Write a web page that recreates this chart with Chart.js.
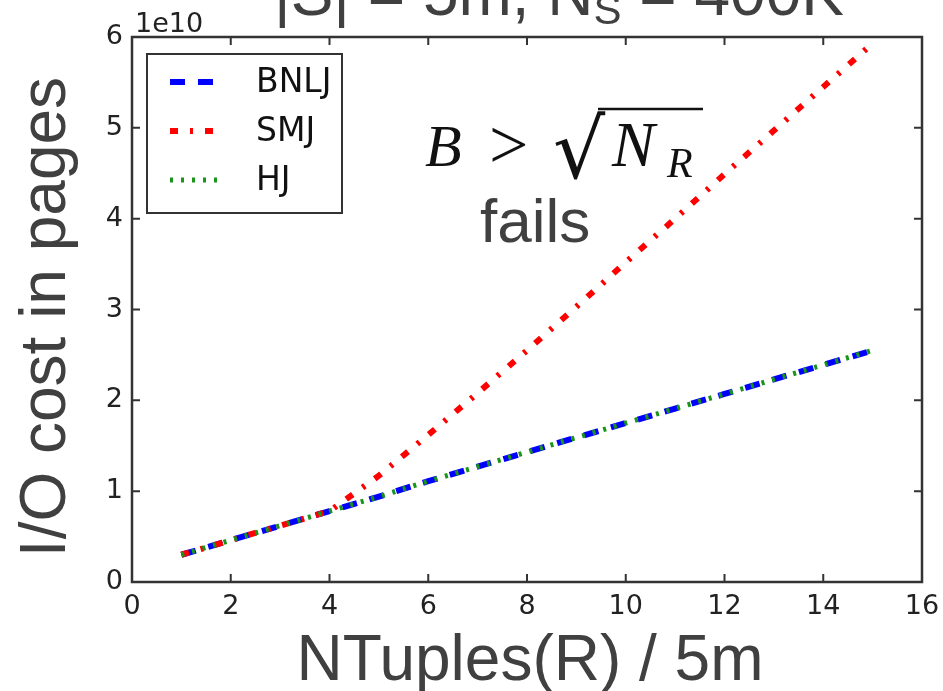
<!DOCTYPE html>
<html>
<head>
<meta charset="utf-8">
<script src="https://cdn.jsdelivr.net/npm/chart.js@4/dist/chart.umd.min.js"></script>
<style>
  html, body { margin: 0; padding: 0; background: #fff; }
  #wrap { width: 943px; height: 691px; }
</style>
</head>
<body>
<div id="wrap"><canvas id="costChart" width="943" height="691"></canvas></div>
<script>
// x = NTuples(R) / 5m, y = I/O cost (units of 1e10 pages)
const xValues = [1, 2, 3, 4, 5, 6, 7, 8, 9, 10, 11, 12, 13, 14, 15];
const bnljCost = [0.30, 0.46, 0.62, 0.78, 0.94, 1.11, 1.27, 1.43, 1.59, 1.75, 1.91, 2.07, 2.23, 2.39, 2.55];
const smjCost = [0.30, 0.46, 0.62, 0.78, 1.17, 1.62, 2.08, 2.55, 3.03, 3.52, 4.00, 4.49, 4.97, 5.45, 5.93];
const hjCost = [0.30, 0.46, 0.62, 0.78, 0.94, 1.11, 1.27, 1.43, 1.59, 1.75, 1.91, 2.07, 2.23, 2.39, 2.55];
const xTicks = [0, 2, 4, 6, 8, 10, 12, 14, 16];
const yTicks = [0, 1, 2, 3, 4, 5, 6];
const seriesNames = ["BNLJ", "SMJ", "HJ"];

const SANS = '"Liberation Sans", Arial, sans-serif';
const TEXT_GREY = "#404040";

function points(ys) {
  return xValues.map((x, i) => ({ x: x, y: ys[i] }));
}

// frame, inward ticks, legend, labels and annotations
const decorations = {
  id: "decorations",
  afterDatasetsDraw(chart) {
    const ctx = chart.ctx;
    const a = chart.chartArea;
    const xs = chart.scales.x;
    const ys = chart.scales.y;

    ctx.save();
    ctx.strokeStyle = "#333";
    ctx.lineWidth = 2;
    xTicks.forEach((v) => {
      const px = xs.getPixelForValue(v);
      ctx.beginPath();
      ctx.moveTo(px, a.bottom);
      ctx.lineTo(px, a.bottom - 8);
      ctx.moveTo(px, a.top);
      ctx.lineTo(px, a.top + 8);
      ctx.stroke();
    });
    yTicks.forEach((v) => {
      const py = ys.getPixelForValue(v);
      ctx.beginPath();
      ctx.moveTo(a.left, py);
      ctx.lineTo(a.left + 8, py);
      ctx.moveTo(a.right, py);
      ctx.lineTo(a.right - 8, py);
      ctx.stroke();
    });
    ctx.lineWidth = 2.5;
    ctx.strokeRect(a.left, a.top, a.right - a.left, a.bottom - a.top);

    // exponent label
    ctx.fillStyle = "#222";
    ctx.font = '27px "DejaVu Sans"';
    ctx.textAlign = "left";
    ctx.textBaseline = "alphabetic";
    ctx.fillText("1e10", a.left + 3, a.top - 5);

    // legend
    const lx = 147, ly = 54;
    ctx.fillStyle = "#fff";
    ctx.fillRect(lx, ly, 195, 159);
    ctx.strokeStyle = "#333";
    ctx.lineWidth = 2;
    ctx.strokeRect(lx, ly, 195, 159);
    chart.data.datasets.forEach((ds, i) => {
      const y = 82 + i * 49;
      ctx.save();
      ctx.strokeStyle = ds.borderColor;
      ctx.lineWidth = ds.borderWidth;
      ctx.setLineDash(ds.borderDash);
      ctx.lineCap = "butt";
      ctx.beginPath();
      ctx.moveTo(170, y);
      ctx.lineTo(222, y);
      ctx.stroke();
      ctx.restore();
      ctx.fillStyle = "#111";
      ctx.font = '33px "DejaVu Sans"';
      ctx.textBaseline = "middle";
      ctx.fillText(ds.label, 256, y + 1);
    });

    // axis titles
    ctx.fillStyle = TEXT_GREY;
    ctx.textBaseline = "alphabetic";
    ctx.font = "64px " + SANS;
    ctx.textAlign = "center";
    ctx.fillText("NTuples(R) / 5m", 530, 680);
    ctx.save();
    ctx.translate(65, 317);
    ctx.rotate(-Math.PI / 2);
    ctx.fillText("I/O cost in pages", 0, 0);
    ctx.restore();

    // clipped slide title
    ctx.textAlign = "left";
    ctx.font = "64px " + SANS;
    let tx = 274;
    const t1 = "|S| = 5m, N";
    ctx.fillText(t1, tx, 15);
    tx += ctx.measureText(t1).width;
    ctx.font = "42px " + SANS;
    ctx.fillText("S", tx, 24);
    tx += ctx.measureText("S").width;
    ctx.font = "64px " + SANS;
    ctx.fillText(" = 400K", tx, 15);

    // annotation: B > sqrt(N_R) fails
    ctx.fillStyle = "#111";
    ctx.font = 'italic 60px "Liberation Serif"';
    ctx.fillText("B", 425, 166);
    ctx.font = '70px "Liberation Serif"';
    ctx.fillText(">", 489, 168);
    ctx.font = '82px "DejaVu Serif"';
    ctx.fillText("\u221A", 553, 178);
    ctx.strokeStyle = "#111";
    ctx.lineWidth = 2.5;
    ctx.beginPath();
    ctx.moveTo(598, 109);
    ctx.lineTo(703, 109);
    ctx.stroke();
    ctx.font = 'italic 64px "Liberation Serif"';
    ctx.fillText("N", 612, 166);
    ctx.font = 'italic 42px "Liberation Serif"';
    ctx.fillText("R", 667, 177);
    ctx.fillStyle = TEXT_GREY;
    ctx.font = "62px " + SANS;
    ctx.fillText("fails", 480, 242);
    ctx.restore();
  },
};

new Chart(document.getElementById("costChart").getContext("2d"), {
  type: "line",
  data: {
    datasets: [
      {
        label: seriesNames[0],
        data: points(bnljCost),
        borderColor: "#0000ff",
        borderWidth: 6,
        borderDash: [15, 13],
        order: 3,
      },
      {
        label: seriesNames[1],
        data: points(smjCost),
        borderColor: "#ff0000",
        borderWidth: 6,
        borderDash: [8, 12, 3, 12],
        order: 2,
      },
      {
        label: seriesNames[2],
        data: points(hjCost),
        borderColor: "#1a941a",
        borderWidth: 5,
        borderDash: [3, 8],
        order: 1,
      },
    ],
  },
  options: {
    responsive: false,
    animation: false,
    devicePixelRatio: 1,
    layout: { padding: { left: 0, right: 21, top: 37, bottom: 0 } },
    elements: {
      point: { radius: 0 },
      line: { tension: 0, borderCapStyle: "butt", fill: false },
    },
    plugins: {
      legend: { display: false },
      tooltip: { enabled: false },
      title: { display: false },
    },
    scales: {
      x: {
        type: "linear",
        min: 0,
        max: 16,
        afterFit: (s) => { s.height = 109; s.paddingLeft = 0; s.paddingRight = 0; },
        afterBuildTicks: (s) => { s.ticks = xTicks.map((v) => ({ value: v })); },
        grid: { display: false, drawTicks: false },
        border: { display: false },
        ticks: {
          color: "#222",
          font: { family: "DejaVu Sans", size: 27 },
          padding: 9,
          maxRotation: 0,
          autoSkip: false,
        },
      },
      y: {
        type: "linear",
        min: 0,
        max: 6,
        afterFit: (s) => { s.width = 132; s.paddingTop = 0; s.paddingBottom = 0; },
        afterBuildTicks: (s) => { s.ticks = yTicks.map((v) => ({ value: v })); },
        grid: { display: false, drawTicks: false },
        border: { display: false },
        ticks: {
          color: "#222",
          font: { family: "DejaVu Sans", size: 27 },
          padding: 9,
          autoSkip: false,
        },
      },
    },
  },
  plugins: [decorations],
});
</script>
</body>
</html>
